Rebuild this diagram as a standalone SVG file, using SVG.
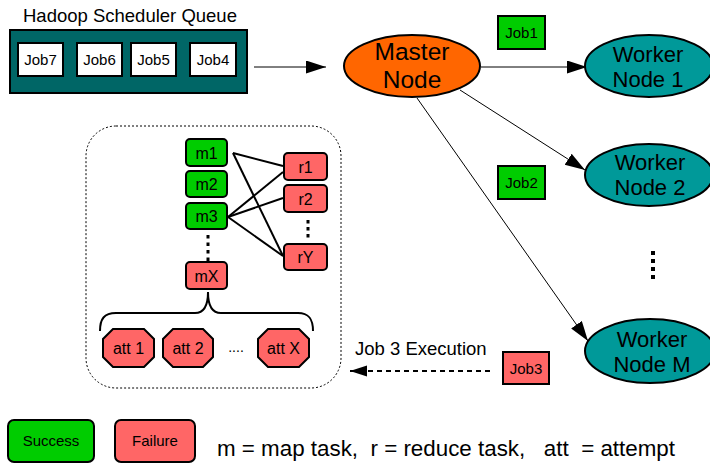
<svg xmlns="http://www.w3.org/2000/svg" width="710" height="464" viewBox="0 0 710 464">
<style>
text{font-family:"Liberation Sans",Arial,sans-serif;fill:#000}
.job{fill:#fff;stroke:#000;stroke-width:2}
.ok{fill:#00cc00;stroke:#000;stroke-width:2}
.bad{fill:#ff6666;stroke:#000;stroke-width:2}
.t15{font-size:15px;text-anchor:middle}
.t16{font-size:16px;text-anchor:middle}
.big{font-size:22px;text-anchor:middle}
.ln{stroke:#000;stroke-width:1;fill:none}
.tk{stroke:#000;stroke-width:2;fill:none}
</style>
<defs>
<marker id="ah" markerUnits="userSpaceOnUse" markerWidth="20" markerHeight="14" refX="20" refY="6.5" orient="auto">
<path d="M0,0 L20,6.5 L0,13 Z" fill="#000"/>
</marker>
<marker id="ahs" markerUnits="userSpaceOnUse" markerWidth="18" markerHeight="12" refX="17" refY="5.5" orient="auto">
<path d="M0,0 L17,5.5 L0,11 Z" fill="#000"/>
</marker>
</defs>

<g id="queue">
<text x="23" y="22" style="font-size:18.5px">Hadoop Scheduler Queue</text>
<rect x="10" y="30" width="237" height="63" fill="#006666" stroke="#000" stroke-width="2"/>
<rect class="job" x="18" y="43" width="45" height="33"/>
<text class="t15" x="40.5" y="65">Job7</text>
<rect class="job" x="77" y="43" width="45" height="33"/>
<text class="t15" x="99.5" y="65">Job6</text>
<rect class="job" x="131" y="43" width="45" height="33"/>
<text class="t15" x="153.5" y="65">Job5</text>
<rect class="job" x="190" y="43" width="46" height="33"/>
<text class="t15" x="213" y="65">Job4</text>
</g>

<g id="connectors">
<line class="ln" x1="254" y1="67" x2="326" y2="67" marker-end="url(#ah)"/>
<line class="ln" x1="481" y1="67" x2="587" y2="67" marker-end="url(#ah)"/>
<line class="ln" x1="460" y1="90" x2="585" y2="170" marker-end="url(#ah)"/>
<line class="ln" x1="417" y1="98" x2="588" y2="341" marker-end="url(#ah)"/>
<line x1="490" y1="371" x2="350" y2="371" stroke="#000" stroke-width="2" stroke-dasharray="5,4" marker-end="url(#ahs)"/>
<text x="355" y="355" style="font-size:18.5px">Job 3 Execution</text>
<line class="tk" x1="233" y1="153" x2="283" y2="166"/>
<line class="tk" x1="233" y1="153" x2="283" y2="256"/>
<line class="tk" x1="228" y1="217" x2="283" y2="172"/>
<line class="tk" x1="228" y1="217" x2="283" y2="198"/>
<line class="tk" x1="228" y1="217" x2="283" y2="256"/>
<path class="tk" d="M100,331 C100,319 104,313 116,313 L195,313 C203,313 208,306 208,292 C208,306 213,313 221,313 L298,313 C309,313 313,319 313,331"/>
</g>

<g id="master">
<ellipse cx="412" cy="66" rx="68" ry="31" fill="#ff6600" stroke="#000" stroke-width="2"/>
<text x="412" y="60" style="font-size:24.5px;text-anchor:middle">Master</text>
<text x="412" y="88" style="font-size:24.5px;text-anchor:middle">Node</text>
</g>

<g id="job1">
<rect class="ok" x="498" y="16" width="47" height="33"/>
<text class="t15" x="521.5" y="38">Job1</text>
</g>
<g id="job2">
<rect class="ok" x="498" y="166" width="47" height="33"/>
<text class="t15" x="521.5" y="188">Job2</text>
</g>
<g id="job3">
<rect class="bad" x="503" y="352" width="46" height="32"/>
<text class="t15" x="526" y="374">Job3</text>
</g>

<g id="worker1">
<ellipse cx="649" cy="66" rx="64" ry="31" fill="#009999" stroke="#000" stroke-width="2"/>
<text class="big" x="648" y="62">Worker</text>
<text class="big" x="648" y="87">Node 1</text>
</g>
<g id="worker2">
<ellipse cx="649" cy="175" rx="64" ry="31" fill="#009999" stroke="#000" stroke-width="2"/>
<text class="big" x="650" y="170">Worker</text>
<text class="big" x="650" y="195">Node 2</text>
</g>
<g id="workerdots" fill="#000">
<rect x="651" y="251" width="4" height="4"/>
<rect x="651" y="259" width="4" height="4"/>
<rect x="651" y="267" width="4" height="4"/>
<rect x="651" y="275" width="4" height="4"/>
</g>
<g id="workerM">
<ellipse cx="650" cy="351" rx="65" ry="32" fill="#009999" stroke="#000" stroke-width="2"/>
<text class="big" x="652" y="347">Worker</text>
<text class="big" x="652" y="372">Node M</text>
</g>

<g id="taskbox">
<rect x="86" y="126" width="255" height="262" rx="30" fill="none" stroke="#000" stroke-width="1" stroke-dasharray="2,2"/>
</g>
<g id="m1"><rect class="ok" x="186" y="139" width="41" height="27" rx="4"/><text class="t16" x="206.5" y="158.5">m1</text></g>
<g id="m2"><rect class="ok" x="186" y="171" width="41" height="26" rx="4"/><text class="t16" x="206.5" y="190">m2</text></g>
<g id="m3"><rect class="ok" x="186" y="203" width="41" height="26" rx="4"/><text class="t16" x="206.5" y="222">m3</text></g>
<g id="mdots" fill="#000">
<rect x="206.5" y="235" width="3" height="3.5"/>
<rect x="206.5" y="242.5" width="3" height="3.5"/>
<rect x="206.5" y="250" width="3" height="3.5"/>
<rect x="206.5" y="257.5" width="3" height="3.5"/>
</g>
<g id="mX"><rect class="bad" x="186" y="262" width="41" height="27" rx="4"/><text class="t16" x="206.5" y="281.5">mX</text></g>
<g id="r1"><rect class="bad" x="284" y="153" width="43" height="27" rx="4"/><text class="t16" x="305.5" y="172.5">r1</text></g>
<g id="r2"><rect class="bad" x="284" y="185" width="43" height="27" rx="4"/><text class="t16" x="305.5" y="204.5">r2</text></g>
<g id="rdots" fill="#000">
<rect x="306.5" y="220" width="3" height="3.5"/>
<rect x="306.5" y="227" width="3" height="3.5"/>
<rect x="306.5" y="234" width="3" height="3.5"/>
</g>
<g id="rY"><rect class="bad" x="284" y="244" width="43" height="26" rx="4"/><text class="t16" x="305.5" y="263">rY</text></g>

<g id="att1"><path class="bad" d="M113,329 L144,329 L154,339 L154,357 L144,367 L113,367 L103,357 L103,339 Z"/><text class="t16" x="128.5" y="354">att 1</text></g>
<g id="att2"><path class="bad" d="M173,329 L203,329 L213,339 L213,357 L203,367 L173,367 L163,357 L163,339 Z"/><text class="t16" x="188" y="354">att 2</text></g>
<text x="236" y="352" style="font-size:14px;text-anchor:middle">....</text>
<g id="attX"><path class="bad" d="M268,329 L299,329 L309,339 L309,357 L299,367 L268,367 L258,357 L258,339 Z"/><text class="t16" x="283.5" y="354">att X</text></g>

<g id="legend">
<rect class="ok" x="8" y="420" width="86" height="42" rx="6"/>
<text class="t15" x="51" y="446">Success</text>
<rect class="bad" x="115" y="420" width="80" height="42" rx="6"/>
<text class="t15" x="155" y="446">Failure</text>
<text x="217" y="456" xml:space="preserve" style="font-size:22px;white-space:pre" textLength="458" lengthAdjust="spacingAndGlyphs">m = map task,  r = reduce task,   att  = attempt</text>
</g>
</svg>
